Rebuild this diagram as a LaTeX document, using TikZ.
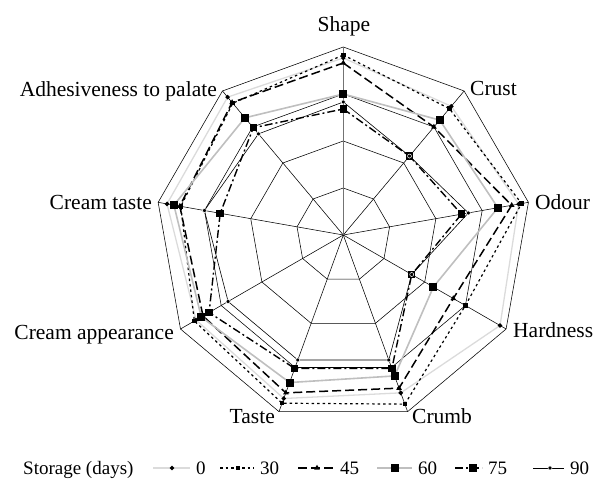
\documentclass[tikz,border=0pt]{standalone}
\usepackage{fontspec}
\setmainfont{Liberation Serif}
\usetikzlibrary{calc,shapes.geometric}
\newcommand\drawseries[2]{%
  \foreach \r [count=\i] in {#2} {
    \pgfmathsetmacro\ang{90-40*(\i-1)}
    \coordinate (#1-\i) at ($(O)+(\ang:\r pt)$);
  }
  \draw[s#1] (#1-1) -- (#1-2) -- (#1-3) -- (#1-4) -- (#1-5) -- (#1-6) -- (#1-7) -- (#1-8) -- (#1-9) -- cycle;
  \foreach \i in {1,...,9} \node[m#1] (mk#1-\i) at (#1-\i) {};
}
\newcommand\legitem[5]{% name, x1, xm, x2, text
  \coordinate (la#1) at (#2,16);
  \coordinate (lb#1) at (#4,16);
  \draw[s#1] (la#1) -- (lb#1);
  \node[m#1] (lm#1) at (#3,16) {};
  \node[leg,anchor=base west] (lt#1) at ($(lb#1)+(6,-7)$) {#5};
}
\begin{document}
\begin{tikzpicture}[x=1pt,y=1pt,
  gridline/.style={black,line width=0.55pt},
  lbl/.style={inner sep=0pt,font=\fontsize{21.5}{24}\selectfont},
  leg/.style={inner sep=0pt,font=\fontsize{19}{22}\selectfont},
  s0/.style={line width=1.3pt,draw=black!14},
  s30/.style={line width=1.2pt,dash pattern=on 2.5pt off 3pt},
  s45/.style={line width=1.5pt,dash pattern=on 9pt off 4pt},
  s60/.style={line width=1.6pt,draw=black!25},
  s75/.style={line width=1.4pt,dash pattern=on 8pt off 3pt on 2pt off 3pt},
  s90/.style={line width=0.6pt},
  m0/.style={diamond,aspect=1,fill=black,inner sep=0pt,minimum size=5pt},
  m30/.style={rectangle,fill=black,inner sep=0pt,minimum size=4.5pt},
  m45/.style={regular polygon,regular polygon sides=3,fill=black,inner sep=0pt,minimum size=6.5pt},
  m60/.style={rectangle,fill=black,inner sep=0pt,minimum size=8pt},
  m75/.style={rectangle,fill=black,inner sep=0pt,minimum size=7.5pt},
  m90/.style={circle,fill=black,draw=white,line width=0.5pt,inner sep=0pt,minimum size=4pt},
]
\useasboundingbox (0,0) rectangle (595,484);
\coordinate (O) at (343.3,249);
% grid rings
\foreach \k/\rr in {1/47,2/94,3/141,4/188} {
  \foreach \i in {1,...,9} {
    \pgfmathsetmacro\ang{90-40*(\i-1)}
    \coordinate (g\k-\i) at ($(O)+(\ang:\rr pt)$);
  }
  \draw[gridline] (g\k-1) -- (g\k-2) -- (g\k-3) -- (g\k-4) -- (g\k-5) -- (g\k-6) -- (g\k-7) -- (g\k-8) -- (g\k-9) -- cycle;
}
% spokes
\foreach \i in {2,...,9} \draw[gridline] (O) -- (g4-\i);
\draw[line width=0.9pt,black!55] (O) -- (g4-1);
% series
\drawseries{0}{177,168,178,181,168,174,170,179,180}
\drawseries{30}{180,165,181,141,180,179,172,165,172}
\drawseries{45}{172,141,171,127,163,168,162,166,173}
\drawseries{60}{141,150,157,104,150,157,164,172,153}
\drawseries{75}{126,103,120,79,142,142,155,125,140}
\drawseries{90}{133,103,127,79,133,133,133,141,132}
% axis labels
\node[lbl,anchor=base] (tShape) at (344,452) {Shape};
\node[lbl,anchor=base west] (tCrust) at (470,388) {Crust};
\node[lbl,anchor=base west] (tOdour) at (535,274) {Odour};
\node[lbl,anchor=base west] (tHard) at (513,146) {Hardness};
\node[lbl,anchor=base west] (tCrumb) at (412,60.5) {Crumb};
\node[lbl,anchor=base east] (tTaste) at (275,60.5) {Taste};
\node[lbl,anchor=base east] (tCA) at (174,144) {Cream appearance};
\node[lbl,anchor=base east] (tCT) at (152,274) {Cream taste};
\node[lbl,anchor=base east] (tAd) at (217,387.5) {Adhesiveness to palate};
% legend
\node[leg,anchor=base west] (tLeg) at (23,9) {Storage (days)};
\legitem{0}{153}{172}{190}{0}
\legitem{30}{220}{238}{254}{30}
\legitem{45}{298}{317}{334}{45}
\legitem{60}{377}{395}{412}{60}
\legitem{75}{455}{473}{482}{75}
\legitem{90}{533}{550}{564}{90}
\end{tikzpicture}
\end{document}
